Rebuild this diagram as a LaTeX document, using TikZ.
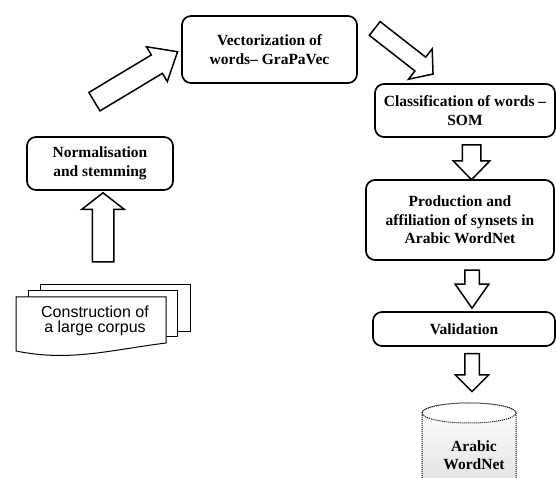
\documentclass[tikz,border=0pt]{standalone}
\usepackage{fontspec}
\setmainfont{Liberation Serif}
\newfontfamily\corpusfont{Liberation Sans}
\usetikzlibrary{shapes.arrows}
\begin{document}
\begin{tikzpicture}[x=1pt, y=1pt,
    stage/.style={draw, line width=1.7pt, rounded corners=9pt, align=center, inner sep=2pt,
      font=\bfseries\fontsize{15.5}{18.5}\selectfont},
    fat/.style={single arrow, draw, line width=1.5pt, fill=white, inner sep=0pt,
      text depth=0pt, single arrow head indent=0pt},
    sheet/.style={draw, line width=1pt, fill=white}]
  \useasboundingbox (0,0) rectangle (556,478);
  % stages of the method
  \node [stage, minimum width=175pt, minimum height=67pt] (vec) at (269.5,428.5) {Vectorization of\\words– GraPaVec};
  \node [stage, minimum width=146pt, minimum height=53pt] (norm) at (100,314.5) {Normalisation\\and stemming};
  \node [stage, minimum width=180pt, minimum height=53pt] (class) at (465,367.5) {Classification of words –\\SOM};
  \node [stage, minimum width=188pt, minimum height=80pt] (prod) at (460,258) {Production and\\affiliation of synsets in\\Arabic WordNet};
  \node [stage, minimum width=182pt, minimum height=34pt] (val) at (464,149) {Validation};
  % corpus documents
  \draw [sheet] (40,146) rectangle (190,193);
  \draw [sheet] (28,141) rectangle (177,187);
  \draw [sheet] (16,181) -- (166,181) -- (166,135) .. controls (110,128) and (70,116) .. (16,127) -- cycle;
  \node [font=\corpusfont\fontsize{16}{15}\selectfont, align=center] (corpus) at (95,157) {Construction of\\a large corpus};
  % database
  \draw [densely dotted, line width=1pt, top color=white, bottom color=gray!25]
    (422,65) -- (422,-5) arc[start angle=180, end angle=360, x radius=47, y radius=10] -- (516,65)
    arc[start angle=0, end angle=180, x radius=47, y radius=10] -- cycle;
  \draw [densely dotted, line width=1pt, fill=white] (469,65) ellipse[x radius=47, y radius=10];
  \node [font=\bfseries\fontsize{15.5}{18}\selectfont, align=center] (awn) at (474,23) {Arabic\\WordNet};
  % block arrows
  \node [fat, rotate=90, minimum height=69pt, text height=20pt, single arrow head extend=10.5pt, single arrow tip angle=104] (up) at (103,246.5) {};
  \node [fat, rotate=31, minimum height=97pt, text height=20pt, single arrow head extend=9.5pt, single arrow tip angle=80] (ne) at (130.5,398) {};
  \node [fat, rotate=-38, minimum height=74pt, text height=16pt, single arrow head extend=10.5pt, single arrow tip angle=100] (se) at (401,429) {};
  \node [fat, rotate=-90, minimum height=35pt, text height=17pt, single arrow head extend=9pt, single arrow tip angle=88] (down1) at (471.5,320.5) {};
  \node [fat, rotate=-90, minimum height=38pt, text height=13pt, single arrow head extend=9.5pt, single arrow tip angle=70] (down2) at (472,194) {};
  \node [fat, rotate=-90, minimum height=38pt, text height=13pt, single arrow head extend=9.5pt, single arrow tip angle=90] (down3) at (472,109) {};
\end{tikzpicture}
\end{document}
